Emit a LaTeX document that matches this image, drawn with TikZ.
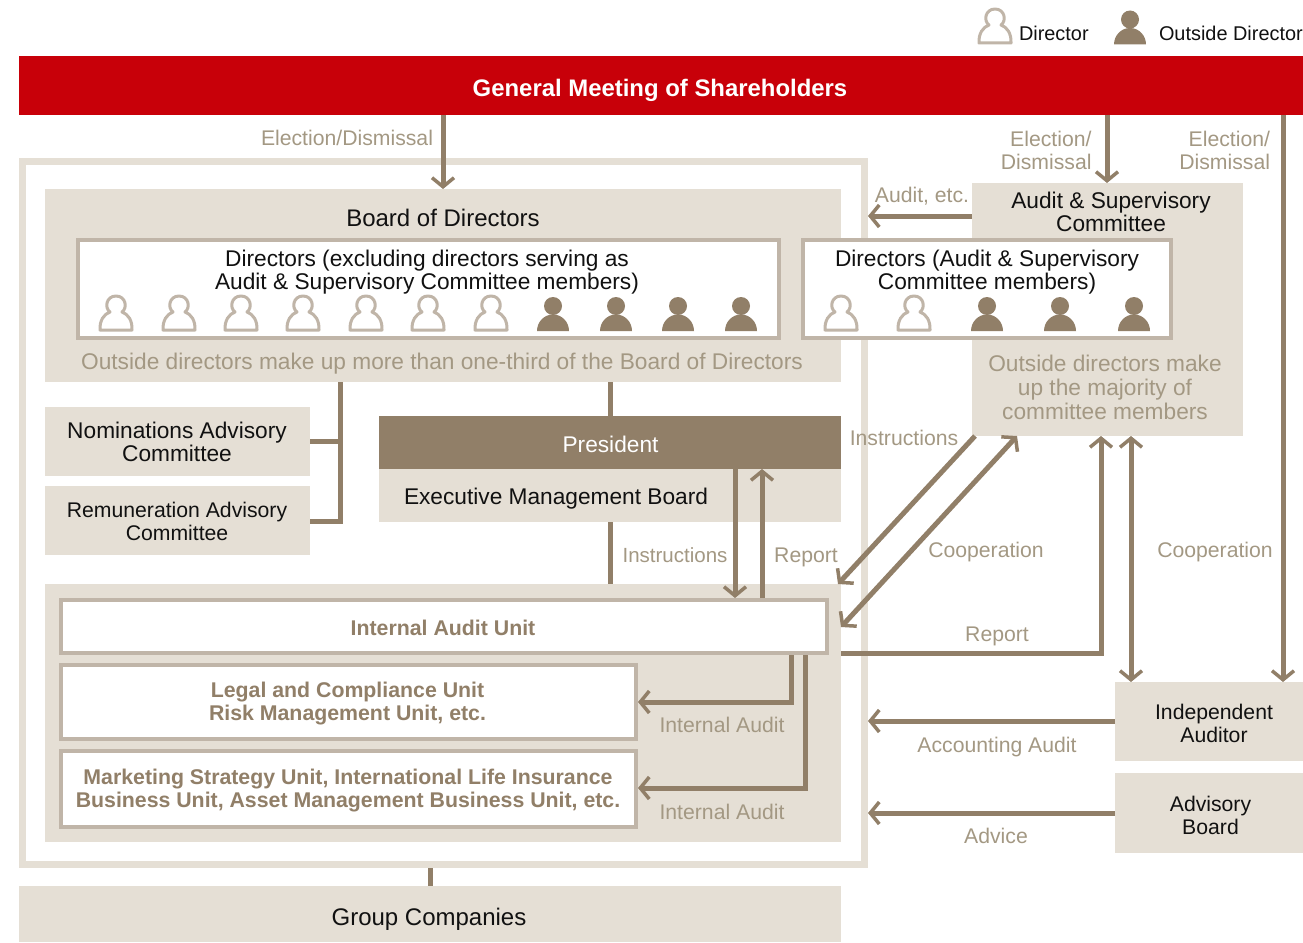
\documentclass[tikz,border=0pt]{standalone}
\usepackage{fontspec}
\setmainfont{Liberation Sans}
\usetikzlibrary{arrows.meta}
\definecolor{redbar}{HTML}{C80009}
\definecolor{sand}{HTML}{E5DFD5}
\definecolor{brownd}{HTML}{917F68}
\definecolor{edgec}{HTML}{C0B5A8}
\definecolor{lbl}{HTML}{A39883}
\definecolor{ink}{HTML}{111111}
\newcommand\bx[6]{\node[#2,minimum width={(#5-#3)*1pt},minimum height={(#6-#4)*1pt}] (#1) at ({(#3+#5)/2},{(#4+#6)/2}) {};}
\tikzset{
  plain/.style={fill=sand,draw=none,outer sep=0pt,inner sep=0pt},
  dark/.style={fill=brownd,draw=none,outer sep=0pt,inner sep=0pt},
  redb/.style={fill=redbar,draw=none,outer sep=0pt,inner sep=0pt},
  whitebox/.style={fill=white,draw=edgec,line width=4pt,inner sep=0pt},
  framebox/.style={fill=white,draw=sand,line width=7pt,inner sep=0pt},
  txt/.style={inner sep=0pt,outer sep=0pt,align=center,text=ink,font=\fontsize{22.7}{23}\selectfont},
  txtb/.style={txt,font=\fontsize{24}{23}\selectfont},
  txts/.style={txt,font=\fontsize{21.2}{23}\selectfont},
  note/.style={txt,text=lbl,font=\fontsize{21.2}{23}\selectfont},
  noteb/.style={txt,text=lbl,font=\fontsize{22.7}{24}\selectfont},
  unit/.style={txt,text=brownd,font=\bfseries\fontsize{21.3}{23}\selectfont},
  link/.style={draw=brownd,line width=5pt},
  arr/.style={link,-{Straight Barb[length=9pt,width=22pt,line width=3.5pt]}},
  darr/.style={link,{Straight Barb[length=9pt,width=22pt,line width=3.5pt]}-{Straight Barb[length=9pt,width=22pt,line width=3.5pt]}},
  director/.pic={\draw[edgec,line width=3pt,line join=round]
    (-6,-19.5) .. controls (-12,-24) and (-9.5,-35.5) .. (0,-35.5)
    .. controls (9.5,-35.5) and (12,-24) .. (6,-19.5)
    .. controls (12,-17.5) and (16.5,-11) .. (16,-1.5) -- (-16,-1.5)
    .. controls (-16.5,-11) and (-12,-17.5) .. cycle;},
  outsider/.pic={\fill[brownd] (0,-25) circle[radius=9];
    \fill[brownd] (-16,0) .. controls (-16,-9) and (-9,-16.5) .. (0,-16.5)
    .. controls (9,-16.5) and (16,-9) .. (16,0) -- cycle;},
}
\begin{document}
\begin{tikzpicture}[x=1pt,y=-1pt]
\useasboundingbox (0,0) rectangle (1303,942);
% containers
\bx{gm}{redb}{19}{56}{1303}{115}
\bx{frame}{framebox}{22.5}{161.5}{864.5}{864.5}
\bx{bod}{plain}{45}{189}{841}{382}
\bx{asc}{plain}{972}{183}{1243}{436}
\bx{nom}{plain}{45}{407}{310}{476}
\bx{rem}{plain}{45}{486}{310}{555}
\bx{emb}{plain}{379}{469}{841}{522}
\bx{pres}{dark}{379}{416}{841}{469}
\bx{exec}{plain}{45}{584}{841}{842}
\bx{ia}{plain}{1115}{682}{1303}{761}
\bx{ab}{plain}{1115}{773}{1303}{853}
\bx{gc}{plain}{19}{886}{841}{942}
\bx{dira}{whitebox}{78}{240}{779}{338}
\bx{dirb}{whitebox}{803}{240}{1171}{338}
% connectors
\draw[arr] (gm.south -| 443,0) -- (bod.north -| 443,0);
\draw[arr] (gm.south -| 1107,0) -- (asc.north -| 1107,0);
\draw[arr] (gm.south -| 1283,0) -- (ia.north -| 1283,0);
\draw[arr] (asc.west |- 0,216) -- (frame.east |- 0,216);
\draw[link] (bod.south -| pres.north) -- (pres.north);
\draw[link] (emb.south -| pres.north) -- (exec.north -| pres.north);
\coordinate (brk) at (340,441);
\draw[link] ([xshift=0pt]bod.south -| brk) |- (rem.east |- 0,521);
\draw[link] (nom.east |- brk) -- (brk);
\bx{iau}{whitebox}{61}{600}{827}{653}
\bx{legal}{whitebox}{61}{665}{636}{739}
\bx{market}{whitebox}{61}{751}{636}{827}
\draw[arr] (pres.south -| 735,0) -- (iau.north -| 735,0);
\draw[arr] (iau.north -| 762,0) -- (pres.south -| 762,0);
\draw[arr] (asc.south -| 975,0) -- ([xshift=-3pt]exec.north east);
\draw[darr] (asc.south -| 1017,0) -- (exec.east |- 0,627);
\draw[arr] (exec.east |- 0,653) -| (asc.south -| 1101,0);
\draw[darr] (asc.south -| 1131,0) -- (ia.north -| 1131,0);
\draw[arr] (iau.south -| 791,0) |- (legal.east |- 0,702);
\draw[arr] (iau.south -| 805,0) |- (market.east |- 0,788);
\draw[arr] (ia.west |- 0,721) -- (frame.east |- 0,721);
\draw[arr] (ab.west |- 0,813) -- (frame.east |- 0,813);
\draw[link] (frame.south -| 430,0) -- (gc.north -| 430,0);
% people
\foreach \px in {116,179,241,303,366,428,491,841,914} \pic at (\px,331.5) {director};
\foreach \px in {553,616,678,741,987,1060,1134} \pic at (\px,331) {outsider};
\pic at (995,44.5) {director};
\pic at (1130,44.5) {outsider};
% legend
\node[txt,anchor=west,font=\fontsize{19.9}{23}\selectfont] (lgd) at (1019,33) {Director};
\node[txt,anchor=west,font=\fontsize{19.9}{23}\selectfont] (lgo) at (1159,33) {Outside Director};
% texts
\node[txt,text=white,font=\bfseries\fontsize{23.9}{23}\selectfont] (gmt) at (660,90) {General Meeting of Shareholders};
\node[txtb] (bodt) at (443,218) {Board of Directors};
\node[txt] (dat) at (427,272) {Directors (excluding directors serving as\\Audit \& Supervisory Committee members)};
\node[txt] (dbt) at (987,272) {Directors (Audit \& Supervisory\\Committee members)};
\node[txt] (asct) at (1111,212) {Audit \& Supervisory\\Committee};
\node[noteb] (n1) at (442,364) {Outside directors make up more than one-third of the Board of Directors};
\node[noteb] (n2) at (1105,387) {Outside directors make\\up the majority of\\committee members};
\node[txt] (nomt) at (177,442) {Nominations Advisory\\Committee};
\node[txts] (remt) at (177,521) {Remuneration Advisory\\Committee};
\node[txt,text=white] (prest) at (610.5,444) {President};
\node[txt,anchor=west] (embt) at (404,498.5) {Executive Management Board};
\node[unit] (iaut) at (443,628) {Internal Audit Unit};
\node[unit] (legt) at (347.5,704) {Legal and Compliance Unit\\Risk Management Unit, etc.};
\node[unit] (mkt) at (348,791) {Marketing Strategy Unit, International Life Insurance\\Business Unit, Asset Management Business Unit, etc.};
\node[txts] (iat) at (1214,723) {Independent\\Auditor};
\node[txts] (abt) at (1210.5,815) {Advisory\\Board};
\node[txtb] (gct) at (429,919.5) {Group Companies};
% labels
\node[note,anchor=east] (l1) at (433,138) {Election/Dismissal};
\node[note,align=right,anchor=east] (l2) at (1091.5,150) {Election/\\Dismissal};
\node[note,align=right,anchor=east] (l3) at (1270,150) {Election/\\Dismissal};
\node[note] (l4) at (922,196) {Audit, etc.};
\node[note] (l5) at (904,438) {Instructions};
\node[note,font=\fontsize{20.5}{23}\selectfont] (l6) at (675,555) {Instructions};
\node[note] (l7) at (806,557) {Report};
\node[note] (l8) at (986,552) {Cooperation};
\node[note] (l9) at (1215,552) {Cooperation};
\node[note] (l10) at (997,636) {Report};
\node[note] (l11) at (722,725) {Internal Audit};
\node[note] (l12) at (722,812) {Internal Audit};
\node[note] (l13) at (997,747) {Accounting Audit};
\node[note] (l14) at (996,836) {Advice};
\end{tikzpicture}
\end{document}
